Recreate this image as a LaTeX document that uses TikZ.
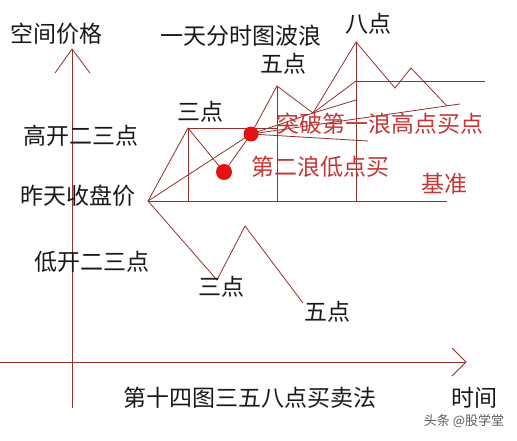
\documentclass[tikz,border=0pt]{standalone}
\usepackage{fontspec}
\newfontfamily\cjk{Noto Sans CJK SC}
\definecolor{wline}{RGB}{145,50,45}
\definecolor{redtxt}{RGB}{195,55,55}
\definecolor{dotred}{RGB}{228,18,18}
\definecolor{wm}{RGB}{90,90,90}
\begin{document}
\begin{tikzpicture}[x=1pt,y=-1pt,
  wave/.style={draw=wline,line width=0.8pt},
  blk/.style={inner sep=0pt,font=\cjk\fontsize{23}{23}\selectfont,text=black!90},
  rtxt/.style={inner sep=0pt,font=\cjk\fontsize{23}{23}\selectfont,text=redtxt},
  dotc/.style={circle,fill=dotred,inner sep=0pt,minimum size=15pt}]
\useasboundingbox[fill=white] (0,0) rectangle (517,440);
% key points
\coordinate (O) at (148,201);
\coordinate (A) at (188,128);
\coordinate (B) at (224,172);
\coordinate (U) at (251,134);
\coordinate (C) at (277,86);
\coordinate (F) at (313,113);
\coordinate (D) at (356,42);
\coordinate (E1) at (395,88);
\coordinate (E2) at (411,68);
\coordinate (E3) at (447,106);
\coordinate (Aa) at (188,201);
\coordinate (Cc) at (277,201);
\coordinate (Dd) at (356,201);
\coordinate (Bend) at (447,201);
\coordinate (Ah) at (277,128);
\coordinate (Dh) at (356,81);
\coordinate (Dhe) at (485,81);
\coordinate (Dm) at (356,100);
\coordinate (Ur) at (460,104);
\coordinate (Ul) at (368,141);
\coordinate (L1) at (217,280);
\coordinate (L2) at (245,226);
\coordinate (L3) at (303,303);
% axes
\coordinate (Yb) at (72,408);
\coordinate (Yt) at (72,49);
\coordinate (Yl) at (55,73);
\coordinate (Yr) at (90,73);
\coordinate (Xl) at (0,362);
\coordinate (Xt) at (466,362);
\coordinate (Xu) at (452,348);
\coordinate (Xd) at (452,376);
\draw[wave] (Yb) -- (Yt);
\draw[wave] (Yl) -- (Yt) -- (Yr);
\draw[wave] (Xl) -- (Xt);
\draw[wave] (Xu) -- (Xt) -- (Xd);
% upper wave structure
\draw[wave] (O) -- (Bend);
\draw[wave] (A) -- (Aa);
\draw[wave] (C) -- (Cc);
\draw[wave] (D) -- (Dd);
\draw[wave] (A) -- (Ah);
\draw[wave] (Dh) -- (Dhe);
\draw[wave] (O) -- (A) -- (B) -- (U) -- (C) -- (F) -- (D) -- (E1) -- (E2) -- (E3);
\draw[wave] (O) -- (U);
\draw[wave] (U) -- (F) -- (Dm);
\draw[wave] (F) -- (Dh);
\draw[wave] (U) -- (Ur);
\draw[wave] (U) -- (Ul);
% lower wave
\draw[wave] (O) -- (L1) -- (L2) -- (L3);
% dots
\node[dotc] (dotU) at (U) {};
\node[dotc,minimum size=16pt] (dotB) at (B) {};
% labels
\node[blk] (ylab) at (56,34) {空间价格};
\node[blk] (title) at (241,36) {一天分时图波浪};
\node[blk] (ba) at (368,24) {八点};
\node[blk] (wu) at (283,64) {五点};
\node[blk] (san) at (200,112) {三点};
\node[blk] (gk) at (81,136) {高开二三点};
\node[blk] (zt) at (78,196) {昨天收盘价};
\node[blk] (dk) at (92,262) {低开二三点};
\node[blk] (san2) at (221,287) {三点};
\node[blk] (wu2) at (327,312) {五点};
\node[rtxt] (tp) at (380,124) {突破第一浪高点买点};
\node[rtxt] (de) at (320,167) {第二浪低点买};
\node[rtxt] (jz) at (444,184) {基准};
\node[blk] (cap) at (250,398) {第十四图三五八点买卖法};
\node[blk] (sj) at (474,398) {时间};
\node[inner sep=0pt,font=\cjk\fontsize{13}{13}\selectfont,text=wm] (wmk) at (464,421) {头条 @股学堂};
\end{tikzpicture}
\end{document}
